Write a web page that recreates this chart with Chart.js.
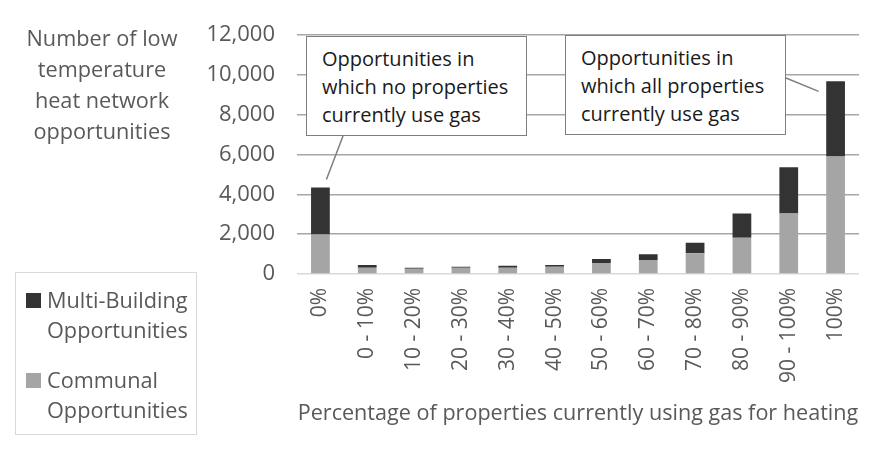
<!DOCTYPE html>
<html>
<head>
<meta charset="utf-8">
<script src="https://cdn.jsdelivr.net/npm/chart.js@4"></script>
<style>
  body { margin: 0; background: #fff; font-family: "Open Sans", sans-serif; }
  #wrap { position: relative; width: 886px; height: 450px; }
  .ytitle { position: absolute; left: 2px; top: 22px; width: 200px; text-align: center;
    color: #595959; font-size: 21.7px; line-height: 31px; }
  .legend { position: absolute; left: 15px; top: 272px; width: 182px; height: 163px;
    border: 1.5px solid #d9d9d9; box-sizing: border-box; color: #595959; font-size: 21.7px; }
  .legend .item { position: absolute; left: 10px; line-height: 30px; padding-left: 21px; white-space: nowrap; }
  .legend .sw { position: absolute; left: 0; top: 8px; width: 15px; height: 15px; }
  .callout { position: absolute; background: #fff; border: 1.5px solid #7f7f7f; box-sizing: border-box;
    color: #1a1a1a; font-size: 20px; line-height: 28px; padding: 8px 0 0 15px; }
</style>
</head>
<body>
<div id="wrap">
  <canvas id="myChart" width="886" height="450"></canvas>
  <div class="ytitle">Number of low<br>temperature<br>heat network<br>opportunities</div>
  <div class="legend">
    <div class="item" style="top:12px"><span class="sw" style="background:#333333"></span>Multi-Building<br>Opportunities</div>
    <div class="item" style="top:92px"><span class="sw" style="background:#a5a5a5"></span>Communal<br>Opportunities</div>
  </div>
  <div class="callout" style="left:306px;top:36px;width:221px;height:100px">Opportunities in<br>which no properties<br>currently use gas</div>
  <div class="callout" style="left:565px;top:35px;width:221px;height:100px">Opportunities in<br>which all properties<br>currently use gas</div>
</div>
<script>
// categories and series
const categories = ['0%', '0 - 10%', '10 - 20%', '20 - 30%', '30 - 40%', '40 - 50%',
  '50 - 60%', '60 - 70%', '70 - 80%', '80 - 90%', '90 - 100%', '100%'];
const communal = [1980, 310, 260, 310, 310, 360, 550, 700, 1040, 1820, 3040, 5900];
const multiBuilding = [2370, 140, 50, 50, 100, 90, 200, 290, 530, 1220, 2330, 3780];

const textGrey = '#595959';

// leader lines from the callout boxes to the tops of the first and last bars
const leaders = {
  id: 'leaders',
  afterDatasetsDraw(chart) {
    const ctx = chart.ctx;
    const x = chart.scales.x;
    const y = chart.scales.y;
    const first = 0;
    const last = categories.length - 1;
    const top0 = y.getPixelForValue(communal[first] + multiBuilding[first]);
    const topN = y.getPixelForValue(communal[last] + multiBuilding[last]);
    ctx.save();
    ctx.strokeStyle = '#7f7f7f';
    ctx.lineWidth = 1.5;
    ctx.beginPath();
    ctx.moveTo(343, 136);
    ctx.lineTo(x.getPixelForValue(first) + 6, top0 - 8);
    ctx.moveTo(786, 78);
    ctx.lineTo(x.getPixelForValue(last) - 17, topN + 10);
    ctx.stroke();
    ctx.restore();
  }
};

const ctx = document.getElementById('myChart');

new Chart(ctx, {
  type: 'bar',
  data: {
    labels: categories,
    datasets: [
      { label: 'Communal Opportunities', data: communal, backgroundColor: '#a5a5a5' },
      { label: 'Multi-Building Opportunities', data: multiBuilding, backgroundColor: '#333333' }
    ]
  },
  options: {
    responsive: false,
    animation: false,
    layout: { padding: { left: 0, right: 27, top: 25, bottom: 20 } },
    datasets: { bar: { categoryPercentage: 1, barPercentage: 0.4 } },
    plugins: { legend: { display: false }, tooltip: { enabled: false } },
    scales: {
      x: {
        stacked: true,
        grid: { display: false, drawTicks: false },
        border: { display: false },
        ticks: {
          color: textGrey, autoSkip: false, minRotation: 90, maxRotation: 90, padding: 14,
          font: { family: 'Open Sans', size: 21 }
        },
        title: {
          display: true,
          text: 'Percentage of properties currently using gas for heating',
          color: textGrey, font: { family: 'Open Sans', size: 21.6 }, padding: { top: 0, bottom: 3 }
        },
        afterFit(scale) { scale.height = 156; }
      },
      y: {
        stacked: true,
        min: 0, max: 12000,
        border: { display: false },
        grid: {
          drawTicks: false,
          lineWidth: 1.5,
          color: c => (c.tick.value !== 0 && c.tick.value % 2000 === 0) ? '#a6a6a6' : '#d9d9d9'
        },
        ticks: {
          stepSize: 1000, padding: 22, color: textGrey,
          font: { family: 'Open Sans', size: 22 },
          callback: v => v % 2000 === 0 ? v.toLocaleString('en-US') : ''
        },
        afterFit(scale) { scale.width = 297; }
      }
    }
  },
  plugins: [leaders]
});
</script>
</body>
</html>
